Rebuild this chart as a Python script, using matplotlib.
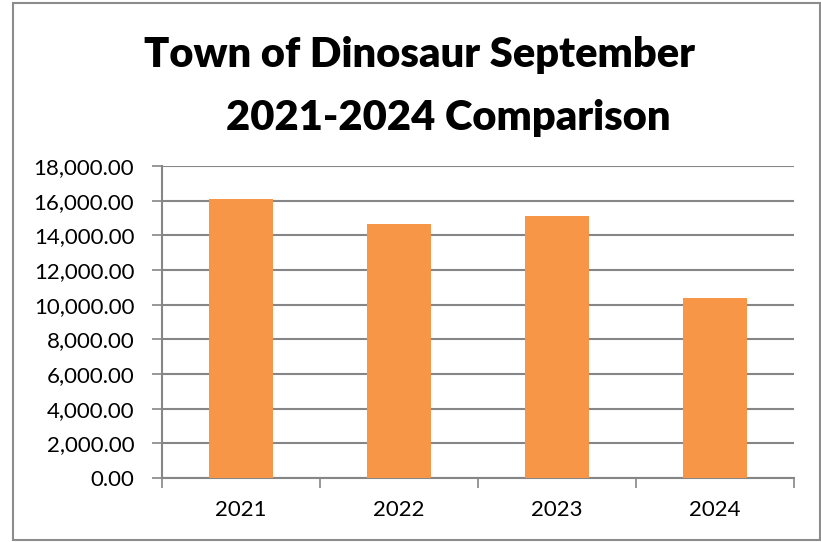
import matplotlib
matplotlib.use('agg')
import numpy as np
import matplotlib.pyplot as plt
from matplotlib.patches import Rectangle

years = ['2021', '2022', '2023', '2024']
values = [16090, 14640, 15100, 10410]
yticks = [0, 2000, 4000, 6000, 8000, 10000, 12000, 14000, 16000, 18000]

plt.rcParams['font.family'] = ['Lato', 'DejaVu Sans']

W, H = 821, 542
fig = plt.figure(figsize=(W / 100, H / 100), dpi=100)
ax = fig.add_axes([162 / W, 1 - 478 / H, (794 - 162) / W, (478 - 166) / H])

x = np.arange(len(years))
ax.bar(x, values, width=0.4, color='#F79646', zorder=3)

ax.set_xlim(-0.5, len(years) - 0.5)
ax.set_ylim(0, 18000)
ax.set_yticks(yticks)
ax.set_yticklabels(['{:,.2f}'.format(v) for v in yticks], fontsize=16)
ax.set_xticks(x)
ax.set_xticklabels(years, fontsize=16)
ax.set_xticks(np.arange(-0.5, len(years)), minor=True)
ax.tick_params(axis='x', which='major', length=0, pad=16)
ax.tick_params(axis='x', which='minor', length=7, width=1.2, color='#868686', direction='out')
ax.tick_params(axis='y', length=7, width=1.2, color='#868686', pad=13)

ax.grid(axis='y', color='#868686', linewidth=1.5, zorder=0)
for s in ['top', 'right']:
    ax.spines[s].set_visible(False)
for s in ['left', 'bottom']:
    ax.spines[s].set_color('#868686')
    ax.spines[s].set_linewidth(1.5)

fig.text(419 / W, 1 - 67 / H, 'Town of Dinosaur September', ha='center', va='baseline',
         fontsize=30, fontweight='heavy')
fig.text(448 / W, 1 - 130 / H, '2021-2024 Comparison', ha='center', va='baseline',
         fontsize=30, fontweight='heavy')

fig.patches.append(Rectangle((13 / W, 1 - 540 / H), (820 - 13) / W, (540 - 3) / H,
                             transform=fig.transFigure, fill=False,
                             edgecolor='#8c8c8c', linewidth=1.5))

plt.savefig('out.png', dpi=100)
plt.close('all')
